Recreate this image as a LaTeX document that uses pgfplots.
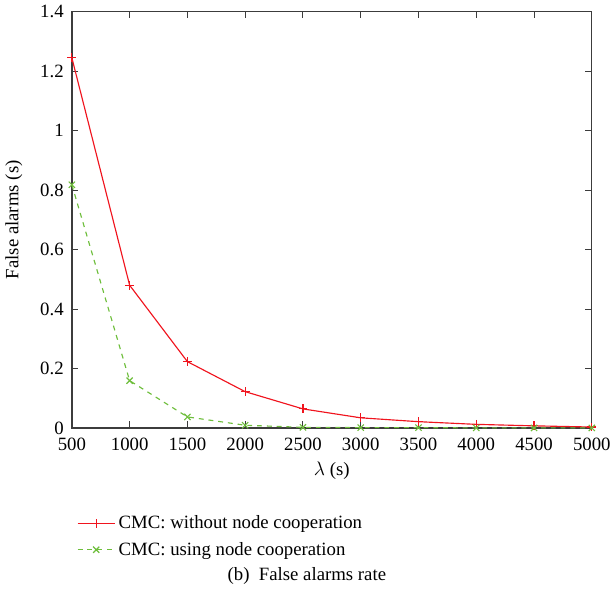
\documentclass[border=0pt]{standalone}
\usepackage{fontspec}
\setmainfont{Liberation Serif}
\usepackage{pgfplots}
\pgfplotsset{compat=1.18}
\definecolor{myred}{RGB}{240,20,30}
\definecolor{mygreen}{RGB}{110,190,60}
\definecolor{axgray}{RGB}{60,60,60}
\newcommand{\fs}{\fontsize{11.5}{14}\selectfont}
\begin{document}
\begin{tikzpicture}
\begin{axis}[
  scale only axis,
  width=318.6pt, height=255pt,
  xmin=500, xmax=5000, ymin=0, ymax=1.4,
  xtick={500,1000,...,5000},
  ytick={0,0.2,...,1.4},
  scaled x ticks=false,
  /pgf/number format/1000 sep={},
  /pgf/number format/assume math mode=true,
  tick align=inside,
  tick pos=both,
  axis line style={axgray, line width=0.8pt},
  major tick style={axgray, line width=0.6pt},
  major tick length=4pt,
  xlabel={$\lambda$ (s)},
  ylabel={False alarms (s)},
  label style={font=\fs},
  ylabel style={yshift=4pt},
  tick label style={font=\fs},
  xticklabel style={yshift=-2.5pt},
  yticklabel style={xshift=-1.5pt},
  legend style={at={(0,-0.195)}, anchor=north west, draw=none, fill=none, font=\fs, row sep=2.5pt},
  legend cell align=left,
  legend image code/.code={
    \draw[#1, mark repeat=2, mark phase=2] plot coordinates {(0cm,0cm) (0.4cm,0cm) (0.8cm,0cm)};
  },
  clip=false,
]
\addplot[color=myred, line width=0.7pt, mark=+, mark size=2.7pt, mark options={solid, draw=myred}] coordinates {
(500,1.245) (1000,0.48) (1500,0.223) (2000,0.122) (2500,0.064) (3000,0.034) (3500,0.021) (4000,0.012) (4500,0.007) (5000,0.003)};
\addlegendentry{CMC: without node cooperation}
\addplot[color=mygreen, line width=0.7pt, dashed, mark=x, mark size=2.7pt, mark options={solid, draw=mygreen}] coordinates {
(500,0.818) (1000,0.159) (1500,0.037) (2000,0.009) (2500,0.002) (3000,0.001) (3500,0.001) (4000,0.0) (4500,0.0) (5000,0.0)};
\addlegendentry{CMC: using node cooperation}
\node[anchor=center, font=\fs, minimum height=46pt] at (rel axis cs:0.452,-0.356) {(b)\ \ False alarms rate};
\end{axis}
\end{tikzpicture}
\end{document}
